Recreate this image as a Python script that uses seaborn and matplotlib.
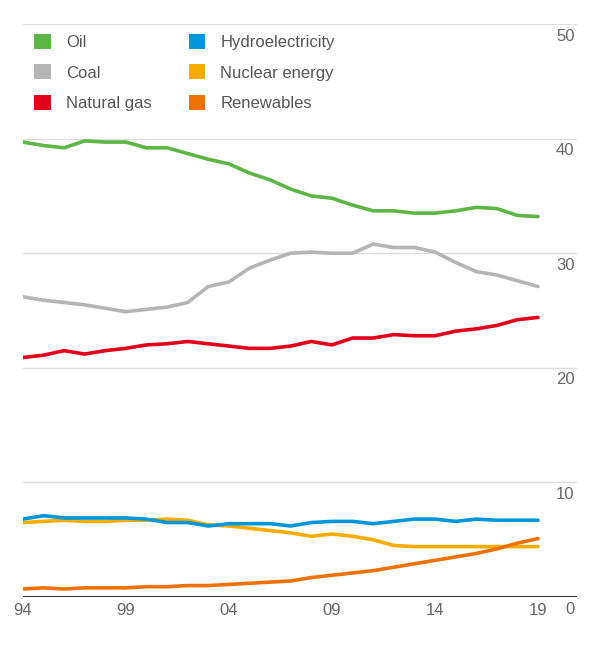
import numpy as np
import pandas as pd
import matplotlib
matplotlib.use("Agg")
import matplotlib.pyplot as plt
import matplotlib.transforms as mtransforms
from matplotlib.patches import Patch
import seaborn as sns

# share of world primary energy consumption, %
years = list(range(1994, 2020))

oil = [39.7, 39.4, 39.2, 39.8, 39.7, 39.7, 39.2, 39.2, 38.7, 38.2, 37.8, 37.0, 36.4,
       35.6, 35.0, 34.8, 34.2, 33.7, 33.7, 33.5, 33.5, 33.7, 34.0, 33.9, 33.3, 33.2]
coal = [26.2, 25.9, 25.7, 25.5, 25.2, 24.9, 25.1, 25.3, 25.7, 27.1, 27.5, 28.7, 29.4,
        30.0, 30.1, 30.0, 30.0, 30.8, 30.5, 30.5, 30.1, 29.2, 28.4, 28.1, 27.6, 27.1]
natural_gas = [20.9, 21.1, 21.5, 21.2, 21.5, 21.7, 22.0, 22.1, 22.3, 22.1, 21.9, 21.7, 21.7,
               21.9, 22.3, 22.0, 22.6, 22.6, 22.9, 22.8, 22.8, 23.2, 23.4, 23.7, 24.2, 24.4]
hydro = [6.8, 7.1, 6.9, 6.9, 6.9, 6.9, 6.8, 6.5, 6.5, 6.2, 6.4, 6.4, 6.4,
         6.2, 6.5, 6.6, 6.6, 6.4, 6.6, 6.8, 6.8, 6.6, 6.8, 6.7, 6.7, 6.7]
nuclear = [6.5, 6.6, 6.7, 6.6, 6.6, 6.7, 6.7, 6.8, 6.7, 6.3, 6.2, 6.0, 5.8,
           5.6, 5.3, 5.5, 5.3, 5.0, 4.5, 4.4, 4.4, 4.4, 4.4, 4.4, 4.4, 4.4]
renewables = [0.7, 0.8, 0.7, 0.8, 0.8, 0.8, 0.9, 0.9, 1.0, 1.0, 1.1, 1.2, 1.3,
              1.4, 1.7, 1.9, 2.1, 2.3, 2.6, 2.9, 3.2, 3.5, 3.8, 4.2, 4.7, 5.1]

sources = ["Oil", "Coal", "Natural gas", "Hydroelectricity", "Nuclear energy", "Renewables"]
colors = ["#5DB646", "#B5B5B5", "#E2001A", "#0096DB", "#F9AC00", "#EE7203"]
series = [oil, coal, natural_gas, hydro, nuclear, renewables]

y_ticks = [0, 10, 20, 30, 40, 50]
x_ticks = [1994, 1999, 2004, 2009, 2014, 2019]
x_labels = ["94", "99", "04", "09", "14", "19"]

df = pd.DataFrame({"year": years * len(sources),
                   "source": np.repeat(sources, len(years)),
                   "share": sum(series, [])})

sns.set_style("white")
plt.rcParams["font.family"] = ["Liberation Sans", "DejaVu Sans"]

fig = plt.figure(figsize=(6, 6.5), dpi=100)
ax = fig.add_axes([0.038, 0.0815, 0.924, 0.8815])

for y in y_ticks[1:]:
    ax.axhline(y, color="#dddddd", lw=1, zorder=0)
ax.axhline(0, color="#333333", lw=1.5, zorder=5)

zorders = [3, 3, 3, 3.2, 3.1, 3.3]
for name, col, z in zip(sources, colors, zorders):
    sns.lineplot(data=df[df.source == name], x="year", y="share", color=col,
                 lw=2.6, ax=ax, zorder=z, legend=False)

ax.set_xlim(1994, 2020.9)
ax.set_ylim(0, 50)
ax.set_xticks(x_ticks)
ax.set_xticklabels(x_labels)
ax.tick_params(axis="x", length=0, pad=4, labelsize=12, labelcolor="#666666")
ax.set_yticks([])
ax.set_xlabel("")
ax.set_ylabel("")
for s in ax.spines.values():
    s.set_visible(False)

trans = mtransforms.blended_transform_factory(ax.transAxes, ax.transData)
for y in y_ticks:
    ax.text(0.995, y - 0.4, str(y), transform=trans, ha="right", va="top",
            fontsize=12, color="#666666")

handles = [Patch(facecolor=c, edgecolor="none") for c in colors]
ax.legend(handles, sources, loc="upper left", bbox_to_anchor=(0.003, 1.0), ncol=2,
          frameon=False, fontsize=12, handlelength=1.0, handleheight=1.0,
          labelspacing=0.85, columnspacing=2.2, handletextpad=0.9,
          labelcolor="#555555", borderaxespad=0.2)

fig.savefig("out.png", dpi=100, facecolor="white")
